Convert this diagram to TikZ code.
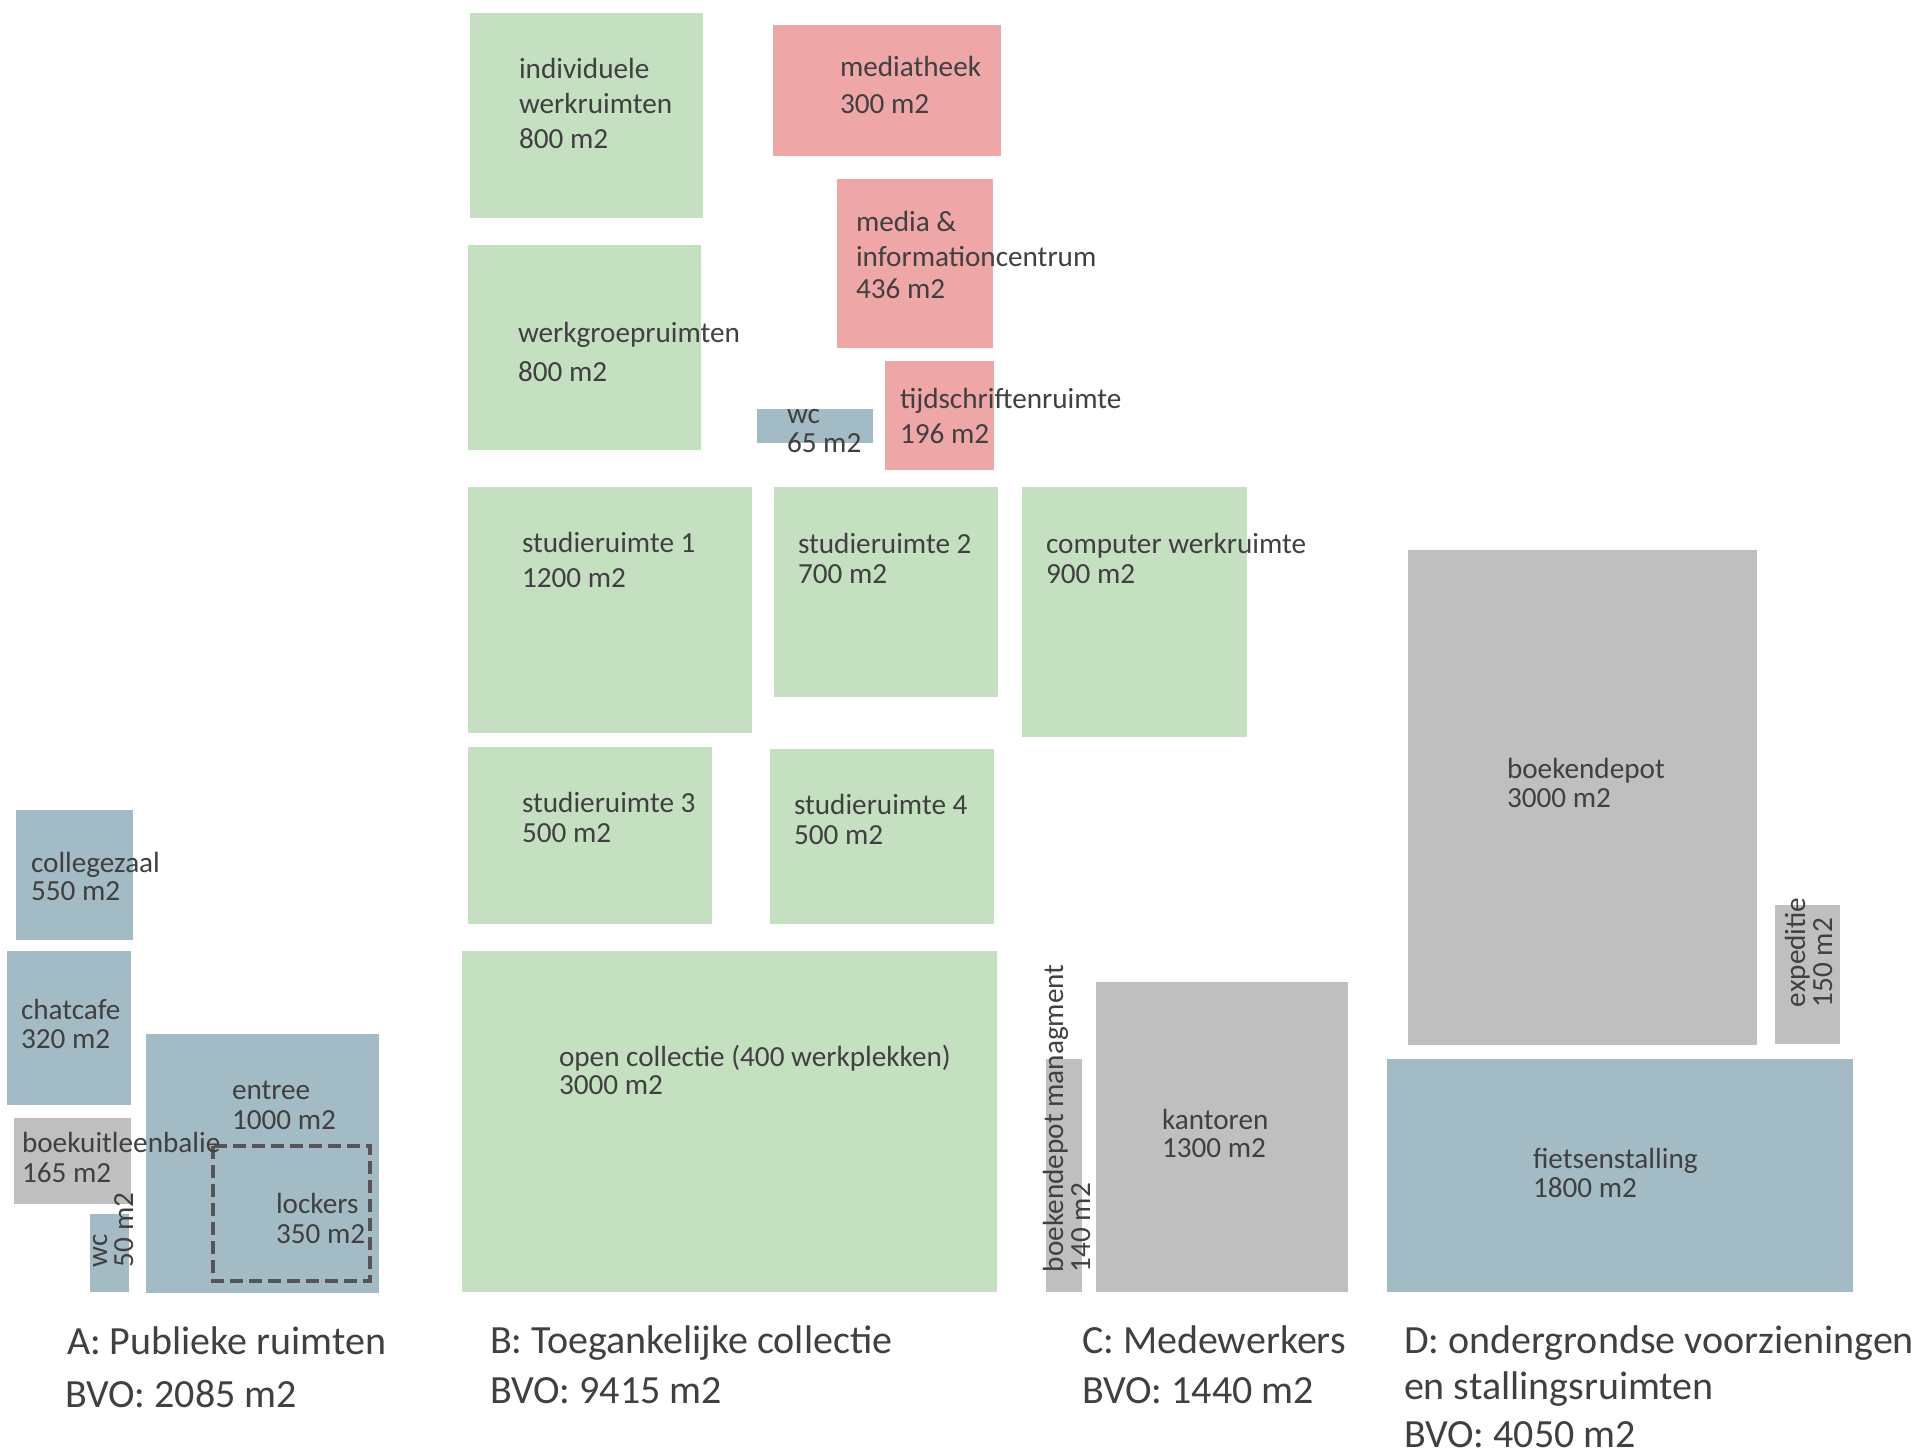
\documentclass[tikz,border=0pt]{standalone}
\usepackage{fontspec}
\setmainfont{Carlito}
\definecolor{cgreen}{RGB}{196,224,193}
\definecolor{cpink}{RGB}{238,166,166}
\definecolor{cblue}{RGB}{163,187,197}
\definecolor{cgrey}{RGB}{191,191,191}
\definecolor{ctext}{RGB}{64,64,64}
\definecolor{cdash}{RGB}{85,85,85}
\tikzset{
  lbl/.style={anchor=base west, inner sep=0pt, outer sep=0pt, text=ctext, font=\fontsize{29.2}{34}\selectfont},
  ttl/.style={anchor=base west, inner sep=0pt, outer sep=0pt, text=ctext, font=\fontsize{40}{48}\selectfont},
  lockerline/.style={draw=cdash, line width=4.5pt, dash pattern=on 13pt off 6pt}
}
\begin{document}
\begin{tikzpicture}[x=1pt,y=-1pt]
\useasboundingbox (0,0) rectangle (1915,1454);
% ---- A: publieke ruimten
\fill[cblue] (16,810) rectangle (133,940);
\fill[cblue] (7,951) rectangle (131,1105);
\fill[cgrey] (14,1118) rectangle (131,1204);
\fill[cblue] (90,1214) rectangle (129,1292);
\fill[cblue] (146,1034) rectangle (379,1293);
\draw[lockerline] (213,1146) rectangle (370,1281);
% ---- B: toegankelijke collectie
\fill[cgreen] (470,13) rectangle (703,218);
\fill[cgreen] (468,245) rectangle (701,450);
\fill[cgreen] (468,487) rectangle (752,733);
\fill[cgreen] (774,487) rectangle (998,697);
\fill[cgreen] (1022,487) rectangle (1247,737);
\fill[cgreen] (468,747) rectangle (712,924);
\fill[cgreen] (770,749) rectangle (994,924);
\fill[cgreen] (462,951) rectangle (997,1292);
\fill[cpink] (773,25) rectangle (1001,156);
\fill[cpink] (837,179) rectangle (993,348);
\fill[cpink] (885,361) rectangle (994,470);
\fill[cblue] (757,409) rectangle (873,443);
% ---- C: medewerkers
\fill[cgrey] (1046,1059) rectangle (1082,1292);
\fill[cgrey] (1096,982) rectangle (1348,1292);
% ---- D: ondergronds
\fill[cgrey] (1408,550) rectangle (1757,1045);
\fill[cgrey] (1775,905) rectangle (1840,1044);
\fill[cblue] (1387,1059) rectangle (1853,1292);

% ---- labels A
\node[lbl] (coll1) at (31,872) {collegezaal};
\node[lbl] (coll2) at (31,900) {550 m2};
\node[lbl] (chat1) at (21,1019) {chatcafe};
\node[lbl] (chat2) at (21,1048) {320 m2};
\node[lbl] (boek1) at (22,1152) {boekuitleenbalie};
\node[lbl] (boek2) at (22,1182) {165 m2};
\node[lbl] (entr1) at (232,1099) {entree};
\node[lbl] (entr2) at (232,1129) {1000 m2};
\node[lbl] (lock1) at (276,1213) {lockers};
\node[lbl] (lock2) at (276,1243) {350 m2};
\node[lbl, rotate=90] (wca1) at (107,1267) {wc};
\node[lbl, rotate=90] (wca2) at (133,1267) {50 m2};
% ---- labels B
\node[lbl] (indi1) at (519,78) {individuele};
\node[lbl] (indi2) at (519,113) {werkruimten};
\node[lbl] (indi3) at (519,148) {800 m2};
\node[lbl] (werk1) at (518,342) {werkgroepruimten};
\node[lbl] (werk2) at (518,381) {800 m2};
\node[lbl] (medt1) at (840,76) {mediatheek};
\node[lbl] (medt2) at (840,113) {300 m2};
\node[lbl] (medi1) at (856,231) {media \&};
\node[lbl] (medi2) at (856,266) {informationcentrum};
\node[lbl] (medi3) at (856,298) {436 m2};
\node[lbl] (wcb1) at (787,423) {wc};
\node[lbl] (wcb2) at (787,452) {65 m2};
\node[lbl] (tijd1) at (900,408) {tijdschriftenruimte};
\node[lbl] (tijd2) at (900,443) {196 m2};
\node[lbl] (stu11) at (522,552) {studieruimte 1};
\node[lbl] (stu12) at (522,587) {1200 m2};
\node[lbl] (stu21) at (798,553) {studieruimte 2};
\node[lbl] (stu22) at (798,583) {700 m2};
\node[lbl] (comp1) at (1046,553) {computer werkruimte};
\node[lbl] (comp2) at (1046,583) {900 m2};
\node[lbl] (stu31) at (522,812) {studieruimte 3};
\node[lbl] (stu32) at (522,842) {500 m2};
\node[lbl] (stu41) at (794,814) {studieruimte 4};
\node[lbl] (stu42) at (794,844) {500 m2};
\node[lbl] (open1) at (559,1066) {open collectie (400 werkplekken)};
\node[lbl] (open2) at (559,1094) {3000 m2};
% ---- labels C
\node[lbl, rotate=90] (bdm1) at (1063,1272) {boekendepot managment};
\node[lbl, rotate=90] (bdm2) at (1090,1272) {140 m2};
\node[lbl] (kant1) at (1162,1129) {kantoren};
\node[lbl] (kant2) at (1162,1157) {1300 m2};
% ---- labels D
\node[lbl] (bdep1) at (1507,778) {boekendepot};
\node[lbl] (bdep2) at (1507,807) {3000 m2};
\node[lbl, rotate=90] (exp1) at (1805,1007) {expeditie};
\node[lbl, rotate=90] (exp2) at (1832,1007) {150 m2};
\node[lbl] (fiet1) at (1533,1168) {fietsenstalling};
\node[lbl] (fiet2) at (1533,1197) {1800 m2};
% ---- titles
\node[ttl] (ta1) at (67,1354) {A: Publieke ruimten};
\node[ttl] (ta2) at (65,1407) {BVO: 2085 m2};
\node[ttl] (tb1) at (490,1353) {B: Toegankelijke collectie};
\node[ttl] (tb2) at (490,1403) {BVO: 9415 m2};
\node[ttl] (tc1) at (1082,1353) {C: Medewerkers};
\node[ttl] (tc2) at (1082,1403) {BVO: 1440 m2};
\node[ttl] (td1) at (1404,1353) {D: ondergrondse voorzieningen};
\node[ttl] (td2) at (1404,1399) {en stallingsruimten};
\node[ttl] (td3) at (1404,1447) {BVO: 4050 m2};
\end{tikzpicture}
\end{document}
